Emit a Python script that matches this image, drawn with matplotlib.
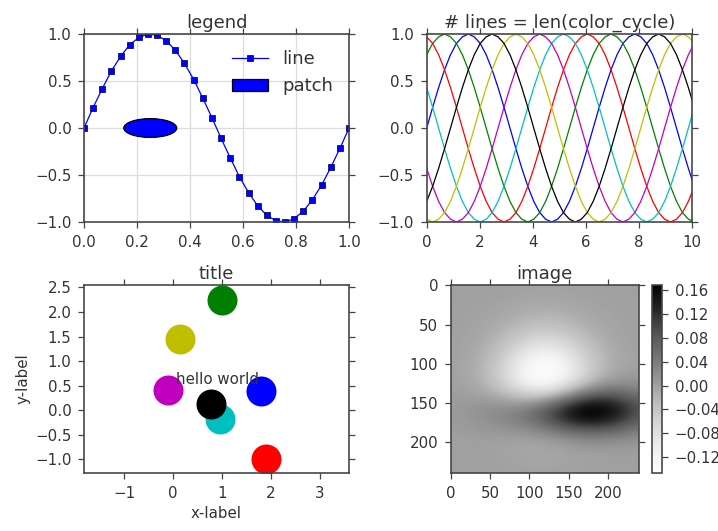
import matplotlib
matplotlib.use("Agg")
import numpy as np
import matplotlib.pyplot as plt
from matplotlib.patches import Ellipse


# ----------------------------------------------------------------------------------------------------------
# DATA
# ----------------------------------------------------------------------------------------------------------

# top left: sine with square markers, 30 points on [0, 1]
legend_x = [0.000, 0.034, 0.069, 0.103, 0.138, 0.172, 0.207, 0.241, 0.276, 0.310,
            0.345, 0.379, 0.414, 0.448, 0.483, 0.517, 0.552, 0.586, 0.621, 0.655,
            0.690, 0.724, 0.759, 0.793, 0.828, 0.862, 0.897, 0.931, 0.966, 1.000]
legend_y = [0.000, 0.215, 0.420, 0.605, 0.762, 0.884, 0.964, 0.999, 0.987, 0.929,
            0.827, 0.687, 0.516, 0.319, 0.108, -0.108, -0.319, -0.516, -0.687, -0.827,
            -0.929, -0.987, -0.999, -0.964, -0.884, -0.762, -0.605, -0.420, -0.215, 0.000]

# top right: one line per colour of the cycle
cycle_colors = ["b", "g", "r", "c", "m", "y", "k"]
wave_x = [0.000, 0.224, 0.449, 0.673, 0.898, 1.122, 1.346, 1.571, 1.795, 2.020,
          2.244, 2.468, 2.693, 2.917, 3.142, 3.366, 3.590, 3.815, 4.039, 4.264,
          4.488, 4.712, 4.937, 5.161, 5.386, 5.610, 5.834, 6.059, 6.283, 6.508,
          6.732, 6.956, 7.181, 7.405, 7.630, 7.854, 8.078, 8.303, 8.527, 8.752,
          8.976, 9.200, 9.425, 9.649, 9.874, 10.098]
wave_b = [0.00, 0.22, 0.43, 0.62, 0.78, 0.90, 0.97, 1.00, 0.97, 0.90, 0.78, 0.62, 0.43, 0.22,
          0.00, -0.22, -0.43, -0.62, -0.78, -0.90, -0.97, -1.00, -0.97, -0.90, -0.78, -0.62, -0.43, -0.22,
          0.00, 0.22, 0.43, 0.62, 0.78, 0.90, 0.97, 1.00, 0.97, 0.90, 0.78, 0.62, 0.43, 0.22,
          0.00, -0.22, -0.43, -0.62]
wave_g = [0.78, 0.90, 0.97, 1.00, 0.97, 0.90, 0.78, 0.62, 0.43, 0.22, 0.00, -0.22, -0.43, -0.62,
          -0.78, -0.90, -0.97, -1.00, -0.97, -0.90, -0.78, -0.62, -0.43, -0.22,
          0.00, 0.22, 0.43, 0.62, 0.78, 0.90, 0.97, 1.00, 0.97, 0.90, 0.78, 0.62, 0.43, 0.22,
          0.00, -0.22, -0.43, -0.62, -0.78, -0.90, -0.97, -1.00]
wave_r = [0.97, 0.90, 0.78, 0.62, 0.43, 0.22, 0.00, -0.22, -0.43, -0.62, -0.78, -0.90, -0.97, -1.00,
          -0.97, -0.90, -0.78, -0.62, -0.43, -0.22,
          0.00, 0.22, 0.43, 0.62, 0.78, 0.90, 0.97, 1.00, 0.97, 0.90, 0.78, 0.62, 0.43, 0.22,
          0.00, -0.22, -0.43, -0.62, -0.78, -0.90, -0.97, -1.00, -0.97, -0.90, -0.78, -0.62]
wave_c = [0.43, 0.22, 0.00, -0.22, -0.43, -0.62, -0.78, -0.90, -0.97, -1.00, -0.97, -0.90, -0.78, -0.62,
          -0.43, -0.22,
          0.00, 0.22, 0.43, 0.62, 0.78, 0.90, 0.97, 1.00, 0.97, 0.90, 0.78, 0.62, 0.43, 0.22,
          0.00, -0.22, -0.43, -0.62, -0.78, -0.90, -0.97, -1.00, -0.97, -0.90, -0.78, -0.62, -0.43, -0.22,
          0.00, 0.22]
wave_m = [-0.43, -0.62, -0.78, -0.90, -0.97, -1.00, -0.97, -0.90, -0.78, -0.62, -0.43, -0.22,
          0.00, 0.22, 0.43, 0.62, 0.78, 0.90, 0.97, 1.00, 0.97, 0.90, 0.78, 0.62, 0.43, 0.22,
          0.00, -0.22, -0.43, -0.62, -0.78, -0.90, -0.97, -1.00, -0.97, -0.90, -0.78, -0.62, -0.43, -0.22,
          0.00, 0.22, 0.43, 0.62, 0.78, 0.90]
wave_y = [-0.97, -1.00, -0.97, -0.90, -0.78, -0.62, -0.43, -0.22,
          0.00, 0.22, 0.43, 0.62, 0.78, 0.90, 0.97, 1.00, 0.97, 0.90, 0.78, 0.62, 0.43, 0.22,
          0.00, -0.22, -0.43, -0.62, -0.78, -0.90, -0.97, -1.00, -0.97, -0.90, -0.78, -0.62, -0.43, -0.22,
          0.00, 0.22, 0.43, 0.62, 0.78, 0.90, 0.97, 1.00, 0.97, 0.90]
wave_k = [-0.78, -0.62, -0.43, -0.22,
          0.00, 0.22, 0.43, 0.62, 0.78, 0.90, 0.97, 1.00, 0.97, 0.90, 0.78, 0.62, 0.43, 0.22,
          0.00, -0.22, -0.43, -0.62, -0.78, -0.90, -0.97, -1.00, -0.97, -0.90, -0.78, -0.62, -0.43, -0.22,
          0.00, 0.22, 0.43, 0.62, 0.78, 0.90, 0.97, 1.00, 0.97, 0.90, 0.78, 0.62, 0.43, 0.22]

# bottom left: big dots
dot_x = [1.79, 1.00, 1.90, 0.96, -0.10, 0.14, 0.77]
dot_y = [0.39, 2.24, -0.99, -0.17, 0.41, 1.45, 0.12]
dot_colors = ["b", "g", "r", "c", "m", "y", "k"]

# bottom right: image values sampled every 20 px across, every 10 px down
image_rows = [
    [0.000, 0.000, 0.000, -0.001, -0.001, -0.002, -0.002, -0.002, -0.001, -0.001, 0.000, 0.000, 0.000],
    [0.000, 0.000, 0.000, -0.001, -0.002, -0.003, -0.004, -0.003, -0.002, -0.001, 0.000, 0.000, 0.000],
    [0.000, 0.000, -0.001, -0.002, -0.004, -0.006, -0.007, -0.006, -0.004, -0.002, -0.001, 0.000, 0.000],
    [0.000, -0.001, -0.002, -0.004, -0.008, -0.011, -0.013, -0.011, -0.008, -0.004, -0.002, -0.001, 0.000],
    [0.000, -0.001, -0.003, -0.007, -0.013, -0.019, -0.022, -0.019, -0.013, -0.007, -0.003, -0.001, 0.000],
    [0.000, -0.002, -0.005, -0.011, -0.021, -0.030, -0.034, -0.030, -0.021, -0.011, -0.005, -0.002, 0.000],
    [-0.001, -0.002, -0.007, -0.017, -0.031, -0.046, -0.052, -0.046, -0.031, -0.017, -0.007, -0.002, -0.001],
    [-0.001, -0.003, -0.010, -0.024, -0.044, -0.064, -0.073, -0.064, -0.044, -0.024, -0.010, -0.003, -0.001],
    [-0.001, -0.004, -0.013, -0.031, -0.058, -0.085, -0.096, -0.085, -0.058, -0.031, -0.013, -0.004, -0.001],
    [-0.001, -0.005, -0.016, -0.039, -0.073, -0.106, -0.120, -0.105, -0.072, -0.039, -0.016, -0.005, -0.001],
    [-0.001, -0.006, -0.019, -0.045, -0.084, -0.122, -0.138, -0.122, -0.083, -0.043, -0.017, -0.005, -0.001],
    [-0.001, -0.006, -0.020, -0.048, -0.090, -0.130, -0.147, -0.127, -0.084, -0.041, -0.013, -0.001, 0.002],
    [-0.001, -0.005, -0.018, -0.044, -0.085, -0.123, -0.136, -0.113, -0.068, -0.025, 0.001, 0.010, 0.010],
    [0.000, -0.002, -0.012, -0.033, -0.065, -0.094, -0.099, -0.071, -0.025, 0.015, 0.034, 0.035, 0.027],
    [0.002, 0.002, -0.002, -0.013, -0.032, -0.046, -0.037, -0.002, 0.043, 0.076, 0.084, 0.072, 0.051],
    [0.004, 0.007, 0.009, 0.008, 0.004, 0.008, 0.030, 0.071, 0.114, 0.138, 0.134, 0.108, 0.076],
    [0.005, 0.010, 0.016, 0.022, 0.029, 0.043, 0.073, 0.115, 0.154, 0.169, 0.157, 0.124, 0.086],
    [0.005, 0.009, 0.015, 0.023, 0.033, 0.049, 0.077, 0.113, 0.143, 0.153, 0.140, 0.110, 0.076],
    [0.003, 0.006, 0.010, 0.015, 0.022, 0.032, 0.051, 0.076, 0.097, 0.105, 0.096, 0.076, 0.052],
    [0.002, 0.003, 0.005, 0.006, 0.007, 0.011, 0.021, 0.035, 0.048, 0.054, 0.050, 0.040, 0.028],
    [0.001, 0.001, 0.001, 0.000, -0.001, -0.002, 0.001, 0.008, 0.016, 0.020, 0.020, 0.016, 0.012],
    [0.000, 0.000, 0.000, -0.002, -0.004, -0.006, -0.005, -0.002, 0.002, 0.005, 0.006, 0.005, 0.004],
    [0.000, 0.000, -0.001, -0.002, -0.003, -0.005, -0.005, -0.004, -0.002, 0.000, 0.001, 0.001, 0.001],
    [0.000, 0.000, 0.000, -0.001, -0.002, -0.003, -0.003, -0.003, -0.002, -0.001, 0.000, 0.000, 0.000],
    [0.000, 0.000, 0.000, -0.001, -0.001, -0.002, -0.002, -0.001, -0.001, 0.000, 0.000, 0.000, 0.000],
]
image_vmin = -0.147
image_vmax = 0.169
colorbar_ticks = [-0.12, -0.08, -0.04, 0.00, 0.04, 0.08, 0.12, 0.16]


# ----------------------------------------------------------------------------------------------------------
# STYLE
# ----------------------------------------------------------------------------------------------------------

TEXT = "#333333"
EDGE = "#444444"

plt.rcParams.update({
    "font.family": "DejaVu Sans",
    "font.size": 12,
    "text.color": TEXT,
    "axes.edgecolor": EDGE,
    "axes.linewidth": 1.3,
    "axes.labelcolor": TEXT,
    "axes.titlesize": "large",
    "axes.titlepad": 5.0,
    "xtick.direction": "out",
    "ytick.direction": "out",
    "xtick.top": True,
    "ytick.right": True,
    "xtick.major.size": 5,
    "ytick.major.size": 5,
    "xtick.major.width": 1.0,
    "ytick.major.width": 1.0,
    "xtick.color": EDGE,
    "ytick.color": EDGE,
    "xtick.labelcolor": TEXT,
    "ytick.labelcolor": TEXT,
    "xtick.major.pad": 5,
    "ytick.major.pad": 5,
    "legend.fontsize": "large",
    "legend.frameon": False,
    "legend.numpoints": 1,
})


def plot_legend(ax):
    ax.plot(legend_x, legend_y, "-s", color="b", lw=1.0, ms=5, mec="#000066", mew=0.6,
            label="line")
    ax.add_patch(Ellipse((0.25, 0.0), 0.2, 0.2, facecolor="b", edgecolor="k", lw=1.0,
                         label="patch"))
    ax.set_xlim(0, 1)
    ax.set_ylim(-1, 1)
    ax.set_yticks([-1.0, -0.5, 0.0, 0.5, 1.0])
    ax.grid(True, color="#dddddd", lw=1.0)
    ax.set_axisbelow(True)
    ax.legend(loc="upper right")
    ax.set_title("legend")


def plot_color_cycle(ax):
    waves = [wave_b, wave_g, wave_r, wave_c, wave_m, wave_y, wave_k]
    for color, wave in zip(cycle_colors, waves):
        ax.plot(wave_x, wave, "-", color=color, lw=1.0)
    ax.set_xlim(0, 10)
    ax.set_ylim(-1, 1)
    ax.set_yticks([-1.0, -0.5, 0.0, 0.5, 1.0])
    ax.set_title("# lines = len(color_cycle)")


def plot_dots(ax):
    for x, y, color in zip(dot_x, dot_y, dot_colors):
        ax.plot(x, y, "o", color=color, ms=24, mew=0)
    ax.text(0.9, 0.62, "hello world", ha="center", va="center")
    ax.set_xlim(-1.82, 3.6)
    ax.set_ylim(-1.28, 2.55)
    ax.set_xticks([-1, 0, 1, 2, 3])
    ax.set_yticks([-1.0, -0.5, 0.0, 0.5, 1.0, 1.5, 2.0, 2.5])
    ax.set_xlabel("x-label")
    ax.set_ylabel("y-label")
    ax.set_title("title")


def plot_image(fig, ax, cax):
    img = ax.imshow(np.array(image_rows), cmap="Greys", vmin=image_vmin, vmax=image_vmax,
                    interpolation="bicubic", extent=(-10, 250, 245, -5), aspect="auto")
    ax.set_xlim(-0.5, 239.5)
    ax.set_ylim(239.5, -0.5)
    ax.set_xticks([0, 50, 100, 150, 200])
    ax.set_yticks([0, 50, 100, 150, 200])
    ax.set_title("image")

    cbar = fig.colorbar(img, cax=cax)
    cbar.set_ticks(colorbar_ticks)
    cbar.outline.set_edgecolor(EDGE)
    cbar.outline.set_linewidth(1.3)
    cax.tick_params(direction="out", length=5, color=EDGE, labelcolor=TEXT)


def main():
    fig = plt.figure(figsize=(718 / 90, 531 / 90), dpi=90)

    ax_legend = fig.add_axes([0.1170, 0.5819, 0.3691, 0.3540])
    ax_cycle = fig.add_axes([0.5943, 0.5819, 0.3691, 0.3540])
    ax_dots = fig.add_axes([0.1170, 0.1092, 0.3691, 0.3540])
    ax_image = fig.add_axes([0.6277, 0.1092, 0.2618, 0.3540])
    ax_cbar = fig.add_axes([0.9077, 0.1092, 0.0148, 0.3540])

    plot_legend(ax_legend)
    plot_color_cycle(ax_cycle)
    plot_dots(ax_dots)
    plot_image(fig, ax_image, ax_cbar)

    fig.savefig("out.png", dpi=90, facecolor="white")


if __name__ == "__main__":
    main()
